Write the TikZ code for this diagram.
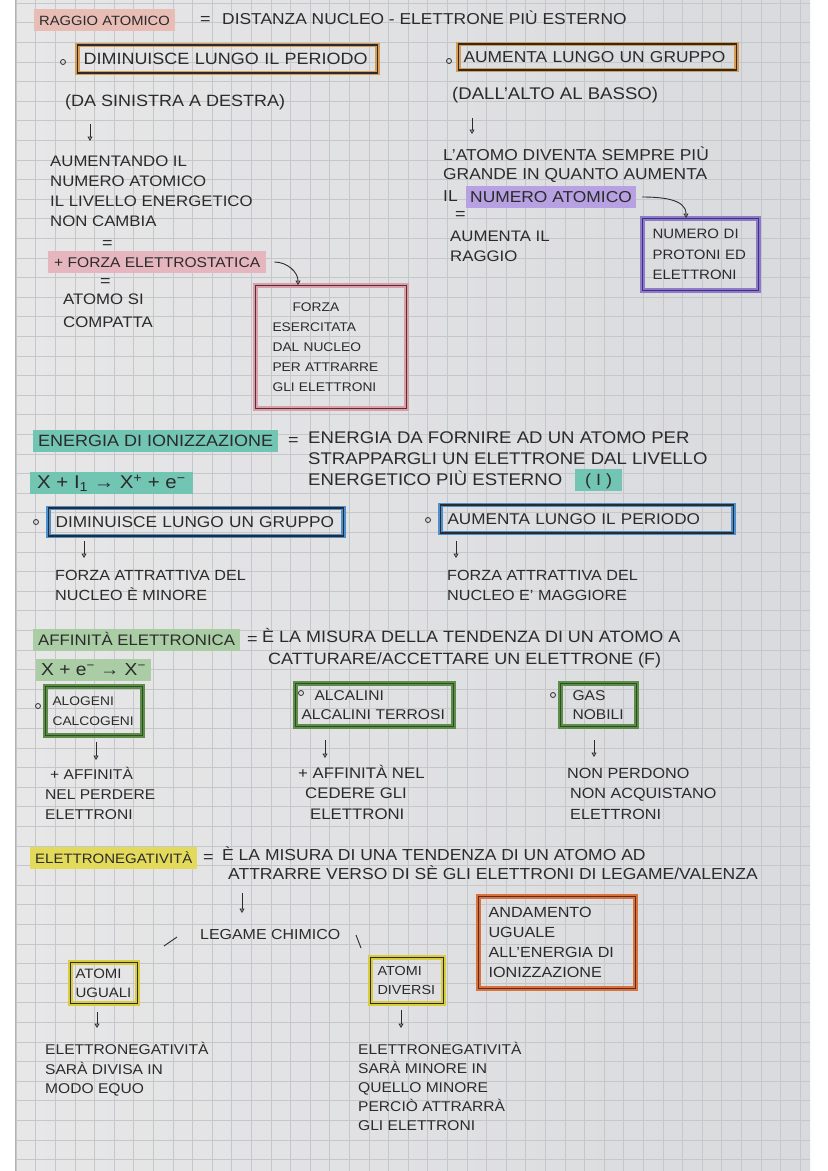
\documentclass[tikz,border=0pt]{standalone}
\usepackage{fontspec}
\setmainfont{Liberation Sans}[FakeStretch=1.1]
\usetikzlibrary{arrows.meta}
\definecolor{pen}{HTML}{2B2B2B}
\definecolor{paperL}{HTML}{E7E7E8}
\definecolor{paperR}{HTML}{D9DADD}
\definecolor{gridc}{HTML}{C6C7CB}
\definecolor{pinkA}{HTML}{E8BDB6}
\definecolor{pinkB}{HTML}{E6B6BF}
\definecolor{purplehl}{HTML}{B7A1E2}
\definecolor{tealhl}{HTML}{72C4B3}
\definecolor{greenhl}{HTML}{AACDA6}
\definecolor{yellowhl}{HTML}{E3DA5C}
\definecolor{orgglow}{HTML}{D69B55}
\definecolor{pinkglow}{HTML}{D9A0AA}
\definecolor{pinkline}{HTML}{5A2C36}
\definecolor{purpglow}{HTML}{8E7BC8}
\definecolor{purpline}{HTML}{3F2F84}
\definecolor{blueglow}{HTML}{4E8FD0}
\definecolor{greenglow}{HTML}{5E8C4B}
\definecolor{greenline}{HTML}{2C4F22}
\definecolor{yellowglow}{HTML}{D9CD3C}
\definecolor{redglow}{HTML}{D8723F}
\definecolor{redline}{HTML}{5E2A1C}
\newcommand\fsz[1]{\fontsize{\fpeval{#1*1.09}}{20}\selectfont}
\newcommand\fszb[2]{\fontsize{\fpeval{#1*1.09}}{#2}\selectfont}
\begin{document}
\begin{tikzpicture}[x=1pt,y=-1pt,
  one/.style={anchor=west, inner sep=0pt, text height=11pt, text depth=0pt, text=pen},
  multi/.style={anchor=north west, inner sep=0pt, align=left, text=pen},
  hl/.style={anchor=west, fill=#1, inner xsep=5pt, inner ysep=5.5pt, text height=11pt, text depth=0pt, text=pen},
  nbox/.style 2 args={draw=#2, line width=1.1pt, preaction={draw=#1, line width=4.5pt}, text=pen, align=left, inner ysep=2pt},
  bul/.style={circle, draw=pen, line width=0.8pt, inner sep=0pt, minimum size=5pt},
  arr/.style={draw=pen, line width=0.9pt, -{Triangle[open,length=4.5pt,width=5pt]}},
  pstroke/.style={draw=pen, line width=0.9pt},
  gridl/.style={draw=gridc, line width=0.55pt}]
\useasboundingbox (0,0) rectangle (828,1171);
\fill[white] (0,0) rectangle (828,1171);
\fill[left color=paperL, right color=paperR] (15,0) rectangle (810,1171);
\foreach \i in {0,...,40} { \draw[gridl] ({16+\i*19.6},0) -- ({16+\i*19.6},1171); }
\foreach \j in {0,...,59} { \draw[gridl] (15,{3+\j*19.6}) -- (810,{3+\j*19.6}); }
\draw[gray!60, line width=0.6pt] (15,0) -- (15,1171);

% ---------------- RAGGIO ATOMICO
\node[hl=pinkA, font=\fsz{12.3}] (raggio) at (34,20) {RAGGIO ATOMICO};
\node[one, font=\fsz{15}] (eq1) at (200,19) {=};
\node[one, font=\fsz{14.5}] (dist) at (222,19) {DISTANZA NUCLEO - ELETTRONE PIÙ ESTERNO};

\node[bul] (bul1) at (63,62) {};
\node[nbox={orgglow}{pen}, anchor=west, inner xsep=6pt, text width=288pt, minimum height=28pt, font=\fsz{15}] (b1) at (77,59) {DIMINUISCE LUNGO IL PERIODO};
\node[one, font=\fsz{15}] (dasin) at (65,101) {(DA SINISTRA A DESTRA)};
\coordinate (a1s) at (90,124); \coordinate (a1e) at (90,141);
\draw[arr] (a1s) -- (a1e);
\node[multi, font=\fszb{14}{20}] (aum) at (50,156) {AUMENTANDO IL\\NUMERO ATOMICO\\IL LIVELLO ENERGETICO\\NON CAMBIA};
\node[one, font=\fsz{15}] (eq2) at (102,243) {=};
\node[hl=pinkB, inner xsep=6pt, font=\fsz{13}] (fel) at (48,262) {+ FORZA ELETTROSTATICA};
\node[one, font=\fsz{15}] (eq3) at (100,281) {=};
\node[multi, font=\fszb{14}{23}] (compatta) at (63,294) {ATOMO SI\\COMPATTA};
\node[nbox={pinkglow}{pinkline}, anchor=north west, inner xsep=17pt, text width=117pt, minimum height=123pt, font=\fszb{11.5}{20}] (fbox) at (255,285) {\hspace*{20pt}FORZA\\ESERCITATA\\DAL NUCLEO\\PER ATTRARRE\\GLI ELETTRONI};
\draw[arr] ([xshift=8pt]fel.east) to[out=0,in=90] ([xshift=43pt]fbox.north west);

\node[bul] (bul2) at (449,61) {};
\node[nbox={orgglow}{pen}, anchor=west, inner xsep=5pt, text width=268pt, minimum height=26pt, font=\fsz{14.5}] (b2) at (458,57) {AUMENTA LUNGO UN GRUPPO};
\node[one, font=\fsz{15.5}] (dall) at (452,94) {(DALL'ALTO AL BASSO)};
\coordinate (a2s) at (472,118); \coordinate (a2e) at (472,134);
\draw[arr] (a2s) -- (a2e);
\node[multi, font=\fszb{14.5}{19}] (latomo) at (443,147) {L'ATOMO DIVENTA SEMPRE PIÙ\\GRANDE IN QUANTO AUMENTA};
\node[one, font=\fsz{14.5}] (il) at (443,196) {IL};
\node[hl=purplehl, inner xsep=4pt, font=\fsz{14.5}] (numat) at (466,197) {NUMERO ATOMICO};
\node[one, font=\fsz{15}] (eq4) at (455,214) {=};
\node[multi, font=\fszb{14}{20}] (aumr) at (450,231) {AUMENTA IL\\RAGGIO};
\node[nbox={purpglow}{purpline}, anchor=north west, inner xsep=10pt, text width=96pt, minimum height=72pt, font=\fszb{12.5}{20.5}] (pbox) at (642,218) {NUMERO DI\\PROTONI ED\\ELETTRONI};
\draw[arr] ([xshift=6pt]numat.east) to[out=0,in=90] ([xshift=44pt]pbox.north west);

% ---------------- ENERGIA DI IONIZZAZIONE
\node[hl=tealhl, font=\fsz{15}] (eni) at (33,441) {ENERGIA DI IONIZZAZIONE};
\node[one, font=\fsz{15}] (eq5) at (288,440) {=};
\node[multi, font=\fszb{15.5}{21}] (endef) at (308,431) {ENERGIA DA FORNIRE AD UN ATOMO PER\\STRAPPARGLI UN ELETTRONE DAL LIVELLO\\ENERGETICO PIÙ ESTERNO};
\node[hl=tealhl, inner xsep=10pt, font=\fsz{15}] (ii) at (575,480) {( I )};
\node[hl=tealhl, inner xsep=7pt, font=\fsz{17}] (eqn1) at (30,483) {X + I\textsubscript{1} → X\textsuperscript{+} + e\textsuperscript{−}};

\node[bul] (bul3) at (36,522) {};
\node[nbox={blueglow}{pen}, anchor=west, inner xsep=7pt, text width=281pt, minimum height=28pt, font=\fsz{14.4}] (b3) at (48,522) {DIMINUISCE LUNGO UN GRUPPO};
\coordinate (a3s) at (84,541); \coordinate (a3e) at (84,558);
\draw[arr] (a3s) -- (a3e);
\node[multi, font=\fszb{13.5}{20}] (fat1) at (55,570) {FORZA ATTRATTIVA DEL\\NUCLEO È MINORE};

\node[bul] (bul4) at (428,520) {};
\node[nbox={blueglow}{pen}, anchor=west, inner xsep=7pt, text width=279pt, minimum height=28pt, font=\fsz{14.3}] (b4) at (440,519) {AUMENTA LUNGO IL PERIODO};
\coordinate (a4s) at (456,541); \coordinate (a4e) at (456,558);
\draw[arr] (a4s) -- (a4e);
\node[multi, font=\fszb{13.5}{20}] (fat2) at (447,570) {FORZA ATTRATTIVA DEL\\NUCLEO E' MAGGIORE};

% ---------------- AFFINITA ELETTRONICA
\node[hl=greenhl, font=\fsz{14}] (aff) at (33,640) {AFFINITÀ ELETTRONICA};
\node[one, font=\fsz{15}] (eq6) at (247,639) {=};
\node[multi, font=\fszb{15}{22}] (affdef) at (262,628) {È LA MISURA DELLA TENDENZA DI UN ATOMO A\\\hspace*{6pt}CATTURARE/ACCETTARE UN ELETTRONE (F)};
\node[hl=greenhl, font=\fsz{16}] (eqn2) at (36,670) {X + e\textsuperscript{−} → X\textsuperscript{−}};

\node[bul] (bul5) at (38,706) {};
\node[nbox={greenglow}{greenline}, anchor=north west, inner xsep=7pt, text width=83pt, minimum height=49pt, font=\fszb{11.5}{20}] (b5) at (45,686) {ALOGENI\\CALCOGENI};
\coordinate (a5s) at (96,742); \coordinate (a5e) at (96,760);
\draw[arr] (a5s) -- (a5e);
\node[multi, font=\fszb{13}{20}] (aff1) at (45,767) {\hspace*{5pt}+ AFFINITÀ\\NEL PERDERE\\ELETTRONI};

\node[nbox={greenglow}{greenline}, anchor=north west, inner xsep=6pt, text width=146pt, minimum height=43pt, font=\fszb{13}{19}] (b6) at (295,683) {\hspace*{13pt}ALCALINI\\ALCALINI TERROSI};
\node[bul] (bul6) at (301,693) {};
\coordinate (a6s) at (325,740); \coordinate (a6e) at (325,758);
\draw[arr] (a6s) -- (a6e);
\node[multi, font=\fszb{14}{20.5}] (aff2) at (298,765) {+ AFFINITÀ NEL\\\hspace*{7pt}CEDERE GLI\\\hspace*{12pt}ELETTRONI};

\node[bul] (bul7) at (553,695) {};
\node[nbox={greenglow}{greenline}, anchor=north west, inner xsep=12pt, text width=52pt, minimum height=43pt, font=\fszb{13}{19}] (b7) at (560,683) {GAS\\NOBILI};
\coordinate (a7s) at (594,740); \coordinate (a7e) at (594,757);
\draw[arr] (a7s) -- (a7e);
\node[multi, font=\fszb{13.5}{20.5}] (aff3) at (567,768) {NON PERDONO\\\hspace*{3pt}NON ACQUISTANO\\\hspace*{3pt}ELETTRONI};

% ---------------- ELETTRONEGATIVITA
\node[hl=yellowhl, font=\fsz{12.5}] (eln) at (30,858) {ELETTRONEGATIVITÀ};
\node[one, font=\fsz{15}] (eq7) at (203,857) {=};
\node[multi, font=\fszb{14.6}{19}] (elndef) at (222,846) {È LA MISURA DI UNA TENDENZA DI UN ATOMO AD\\\hspace*{6pt}ATTRARRE VERSO DI SÈ GLI ELETTRONI DI LEGAME/VALENZA};
\coordinate (a8s) at (242,893); \coordinate (a8e) at (242,913);
\draw[arr] (a8s) -- (a8e);
\node[one, font=\fsz{13.3}] (legame) at (200,934) {LEGAME CHIMICO};
\coordinate (s1s) at (177,937); \coordinate (s1e) at (164,946);
\draw[pstroke] (s1s) -- (s1e);
\coordinate (s2s) at (356,935); \coordinate (s2e) at (361,948);
\draw[pstroke] (s2s) -- (s2e);

\node[nbox={yellowglow}{pen}, anchor=north west, inner xsep=5pt, text width=57pt, minimum height=41pt, font=\fszb{12.5}{19}] (b8) at (70,962) {ATOMI\\UGUALI};
\coordinate (a9s) at (97,1012); \coordinate (a9e) at (97,1028);
\draw[arr] (a9s) -- (a9e);
\node[multi, font=\fszb{13}{19.5}] (ugl) at (45,1042) {ELETTRONEGATIVITÀ\\SARÀ DIVISA IN\\MODO EQUO};

\node[nbox={yellowglow}{pen}, anchor=north west, inner xsep=7pt, text width=59pt, minimum height=46pt, font=\fszb{12}{19}] (b9) at (370,957) {ATOMI\\DIVERSI};
\coordinate (a10s) at (401,1010); \coordinate (a10e) at (401,1028);
\draw[arr] (a10s) -- (a10e);
\node[multi, font=\fszb{13}{19}] (dvr) at (358,1042) {ELETTRONEGATIVITÀ\\SARÀ MINORE IN\\QUELLO MINORE\\PERCIÒ ATTRARRÀ\\GLI ELETTRONI};

\node[nbox={redglow}{redline}, anchor=north west, inner xsep=10pt, text width=137pt, minimum height=92pt, font=\fszb{13.5}{20}] (b10) at (478,896) {ANDAMENTO\\UGUALE\\ALL'ENERGIA DI\\IONIZZAZIONE};
\end{tikzpicture}
\end{document}
